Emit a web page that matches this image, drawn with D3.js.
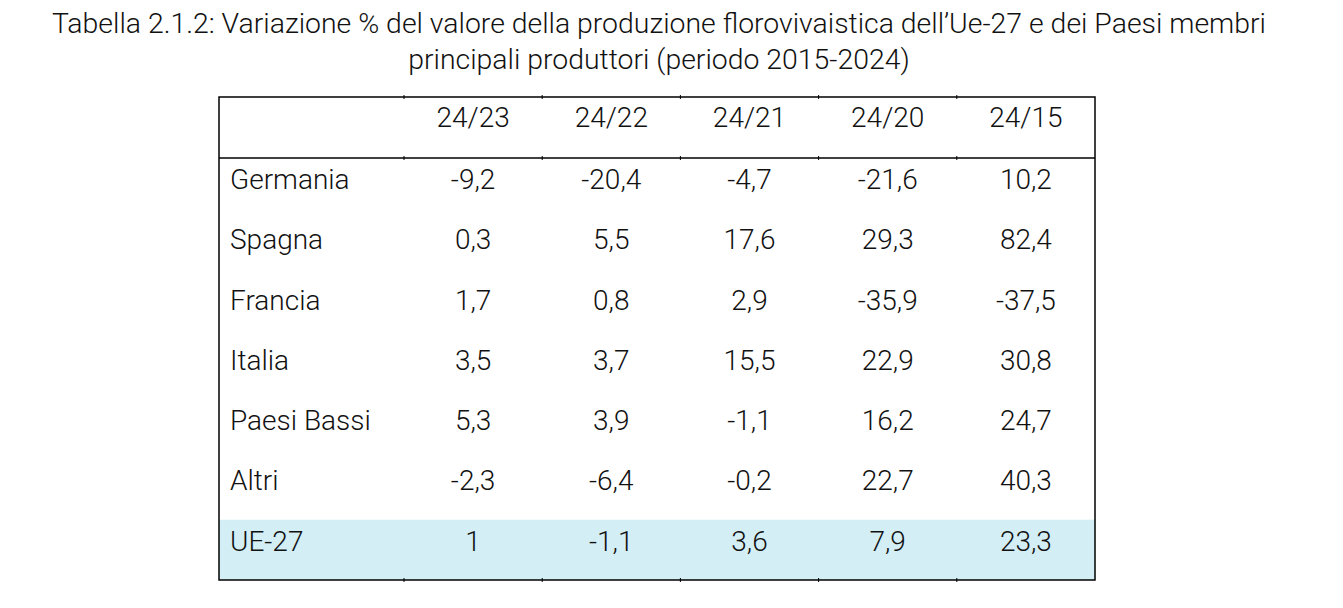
<!DOCTYPE html>
<html>
<head>
<meta charset="utf-8">
<script src="https://cdn.jsdelivr.net/npm/d3@7"></script>
<style>
  body { margin: 0; background: #fff; }
  svg text { font-family: Roboto, "Liberation Sans", sans-serif; font-weight: 300; fill: #111; }
</style>
</head>
<body>
<svg width="1343" height="608"></svg>
<script>
const titleLines = [
  "Tabella 2.1.2: Variazione % del valore della produzione florovivaistica dell\u2019Ue-27 e dei Paesi membri",
  "principali produttori (periodo 2015-2024)"
];
const periods = ["24/23", "24/22", "24/21", "24/20", "24/15"];
const countries = ["Germania", "Spagna", "Francia", "Italia", "Paesi Bassi", "Altri", "UE-27"];
const germania = ["-9,2", "-20,4", "-4,7", "-21,6", "10,2"];
const spagna = ["0,3", "5,5", "17,6", "29,3", "82,4"];
const francia = ["1,7", "0,8", "2,9", "-35,9", "-37,5"];
const italia = ["3,5", "3,7", "15,5", "22,9", "30,8"];
const paesiBassi = ["5,3", "3,9", "-1,1", "16,2", "24,7"];
const altri = ["-2,3", "-6,4", "-0,2", "22,7", "40,3"];
const ue27 = ["1", "-1,1", "3,6", "7,9", "23,3"];
const values = [germania, spagna, francia, italia, paesiBassi, altri, ue27];

let svg = d3.select("svg");

let tLeft = 219, tRight = 1095, tTop = 97, headBottom = 158, tBottom = 580;

// title
svg.selectAll(".title")
  .data(titleLines)
  .enter()
  .append("text")
  .attr("class", "title")
  .attr("x", 659)
  .attr("y", (d, i) => 33 + i * 36)
  .attr("text-anchor", "middle")
  .style("font-size", "28.4px")
  .text(d => d);

// first column is wider than the others
let labelW = 185;
let x = d3.scaleBand().domain(periods).range([tLeft + labelW, tRight]);
let y = d3.scaleBand().domain(countries).range([headBottom, tBottom]);

// highlight UE-27
svg.append("rect")
  .attr("x", tLeft)
  .attr("y", y("UE-27"))
  .attr("width", tRight - tLeft)
  .attr("height", y.bandwidth())
  .attr("fill", "#d3eef5");

// header
svg.selectAll(".head")
  .data(periods)
  .enter()
  .append("text")
  .attr("class", "head")
  .attr("x", d => x(d) + x.bandwidth() / 2)
  .attr("y", tTop + 30)
  .attr("text-anchor", "middle")
  .style("font-size", "28px")
  .text(d => d);

let rows = svg.selectAll(".row")
  .data(countries)
  .enter()
  .append("g")
  .attr("class", "row")
  .attr("transform", d => "translate(0," + y(d) + ")");

rows.append("text")
  .attr("x", tLeft + 11)
  .attr("y", 31)
  .style("font-size", "28px")
  .text(d => d);

rows.selectAll(".val")
  .data((d, i) => values[i].map((v, j) => ({ p: periods[j], v: v })))
  .enter()
  .append("text")
  .attr("class", "val")
  .attr("x", d => x(d.p) + x.bandwidth() / 2)
  .attr("y", 31)
  .attr("text-anchor", "middle")
  .style("font-size", "28px")
  .text(d => d.v);

// borders
svg.append("rect")
  .attr("x", tLeft)
  .attr("y", tTop)
  .attr("width", tRight - tLeft)
  .attr("height", tBottom - tTop)
  .attr("fill", "none")
  .attr("stroke", "#000")
  .attr("stroke-width", 1.5);

svg.append("line")
  .attr("x1", tLeft).attr("x2", tRight)
  .attr("y1", headBottom).attr("y2", headBottom)
  .attr("stroke", "#000")
  .attr("stroke-width", 1.5);

// little cell-border ticks at column edges
let edges = periods.map(p => x(p));
[tTop, headBottom, tBottom].forEach(yy => {
  svg.selectAll(null)
    .data(edges)
    .enter()
    .append("line")
    .attr("x1", d => d).attr("x2", d => d)
    .attr("y1", yy - 2).attr("y2", yy + 2)
    .attr("stroke", "#000")
    .attr("stroke-width", 1);
});
</script>
</body>
</html>
